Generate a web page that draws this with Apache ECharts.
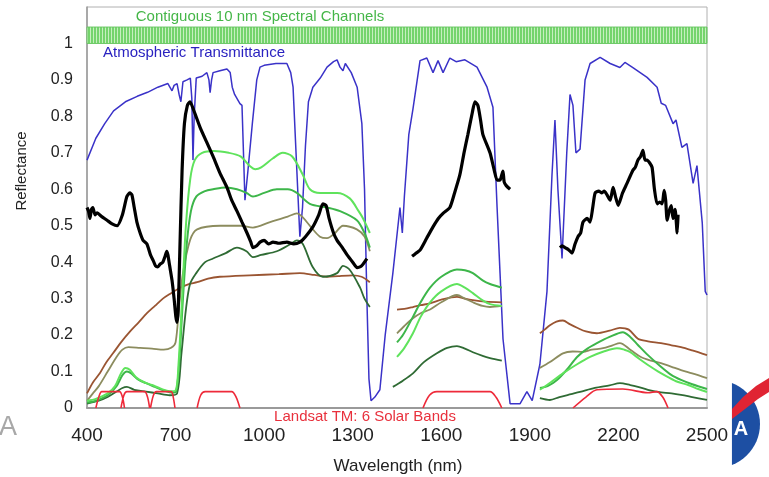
<!DOCTYPE html>
<html><head><meta charset="utf-8">
<script src="https://cdn.jsdelivr.net/npm/echarts@6/dist/echarts.min.js"></script>
<style>html,body{margin:0;padding:0;background:#fff}#c{width:769px;height:477px}</style>
</head><body><div id="c"></div>
<script>
const xTicks = [400, 700, 1000, 1300, 1600, 1900, 2200, 2500];
const yTicks = [0, 0.1, 0.2, 0.3, 0.4, 0.5, 0.6, 0.7, 0.8, 0.9, 1];
const channelBand = [[400, 1.0], [2500, 1.045]];

const transmittance = [[400,0.68],[430,0.74],[460,0.78],[490,0.815],[530,0.84],[570,0.855],[605,0.866],[640,0.88],[674,0.89],[688,0.87],[695,0.885],[705,0.89],[712,0.86],[718,0.84],[725,0.895],[739,0.9],[750,0.905],[755,0.85],[759,0.68],[763,0.8],[770,0.905],[790,0.91],[806,0.92],[813,0.9],[817,0.865],[822,0.9],[827,0.92],[850,0.925],[874,0.93],[885,0.92],[892,0.88],[900,0.86],[918,0.835],[925,0.83],[930,0.7],[935,0.57],[945,0.65],[960,0.78],[975,0.9],[986,0.935],[1000,0.94],[1040,0.945],[1077,0.945],[1090,0.92],[1098,0.88],[1108,0.7],[1121,0.47],[1130,0.55],[1140,0.72],[1150,0.84],[1165,0.88],[1190,0.905],[1213,0.935],[1235,0.95],[1247,0.955],[1257,0.935],[1267,0.925],[1275,0.945],[1281,0.94],[1295,0.92],[1315,0.88],[1331,0.78],[1340,0.6],[1348,0.3],[1355,0.08],[1362,0.02],[1375,0.03],[1392,0.05],[1410,0.2],[1436,0.37],[1460,0.55],[1468,0.48],[1475,0.58],[1490,0.75],[1504,0.82],[1528,0.953],[1551,0.96],[1572,0.92],[1589,0.953],[1606,0.92],[1629,0.96],[1650,0.95],[1680,0.955],[1721,0.935],[1755,0.88],[1775,0.825],[1789,0.55],[1799,0.37],[1809,0.19],[1833,0.012],[1867,0.012],[1890,0.045],[1908,0.02],[1934,0.12],[1958,0.32],[1975,0.64],[1985,0.79],[1995,0.6],[2009,0.41],[2025,0.7],[2036,0.86],[2046,0.83],[2056,0.7],[2070,0.71],[2087,0.9],[2104,0.945],[2138,0.962],[2172,0.945],[2205,0.934],[2222,0.948],[2249,0.934],[2297,0.907],[2331,0.88],[2345,0.836],[2360,0.83],[2385,0.78],[2395,0.79],[2415,0.715],[2432,0.725],[2453,0.616],[2466,0.665],[2484,0.507],[2494,0.32],[2500,0.31]];

const mineral = [[400,0.55],[405,0.54],[410,0.52],[415,0.545],[420,0.55],[427,0.53],[434,0.535],[450,0.525],[468,0.515],[485,0.505],[502,0.5],[520,0.53],[535,0.58],[545,0.59],[552,0.585],[560,0.55],[569,0.51],[580,0.48],[590,0.46],[603,0.45],[615,0.42],[624,0.405],[632,0.39],[640,0.387],[648,0.395],[657,0.4],[664,0.415],[670,0.43],[674,0.42],[680,0.39],[688,0.35],[695,0.3],[701,0.25],[705,0.235],[709,0.27],[715,0.45],[722,0.65],[730,0.78],[740,0.83],[749,0.84],[760,0.82],[783,0.77],[805,0.73],[827,0.69],[850,0.645],[874,0.605],[890,0.57],[908,0.54],[925,0.51],[942,0.48],[955,0.455],[962,0.44],[975,0.445],[986,0.455],[1000,0.46],[1015,0.45],[1030,0.455],[1050,0.452],[1077,0.455],[1100,0.45],[1121,0.455],[1140,0.47],[1165,0.497],[1185,0.53],[1199,0.56],[1210,0.555],[1220,0.52],[1235,0.48],[1247,0.46],[1265,0.44],[1281,0.42],[1300,0.4],[1315,0.385],[1330,0.39],[1348,0.41],null,
[1501,0.416],[1515,0.425],[1528,0.433],[1550,0.465],[1572,0.497],[1590,0.52],[1606,0.534],[1629,0.55],[1645,0.59],[1663,0.64],[1677,0.7],[1690,0.75],[1705,0.81],[1714,0.84],[1724,0.83],[1733,0.79],[1741,0.75],[1765,0.7],[1780,0.65],[1789,0.625],[1799,0.625],[1805,0.64],[1809,0.65],[1813,0.62],[1820,0.61],[1833,0.6],null,
[2002,0.44],[2010,0.445],[2019,0.44],[2030,0.435],[2043,0.425],[2053,0.45],[2063,0.47],[2072,0.48],[2080,0.51],[2094,0.52],[2104,0.51],[2113,0.55],[2121,0.59],[2133,0.595],[2144,0.59],[2152,0.595],[2161,0.585],[2172,0.57],[2182,0.605],[2190,0.58],[2199,0.556],[2214,0.59],[2229,0.616],[2249,0.652],[2257,0.66],[2266,0.68],[2275,0.69],[2283,0.707],[2290,0.68],[2297,0.68],[2306,0.672],[2314,0.66],[2322,0.6],[2331,0.56],[2340,0.565],[2348,0.56],[2355,0.597],[2360,0.57],[2365,0.515],[2372,0.54],[2379,0.555],[2385,0.52],[2392,0.545],[2399,0.48],[2402,0.53]];

const limeVeg = [[400,0.02],[430,0.025],[470,0.04],[495,0.06],[515,0.095],[530,0.11],[545,0.105],[565,0.085],[590,0.072],[620,0.063],[650,0.053],[680,0.046],[700,0.048],[710,0.12],[722,0.3],[735,0.5],[750,0.63],[765,0.68],[790,0.7],[830,0.705],[880,0.7],[920,0.69],[950,0.665],[970,0.655],[990,0.66],[1030,0.685],[1063,0.7],[1095,0.69],[1131,0.64],[1155,0.6],[1190,0.59],[1247,0.59],[1290,0.575],[1320,0.54],[1335,0.52],[1358,0.48],null,
[1450,0.14],[1475,0.165],[1504,0.205],[1530,0.25],[1562,0.29],[1600,0.32],[1653,0.34],[1680,0.33],[1707,0.315],[1740,0.295],[1765,0.285],[1805,0.28],null,
[1934,0.05],[1970,0.07],[2012,0.095],[2060,0.12],[2104,0.14],[2150,0.155],[2195,0.164],[2220,0.16],[2239,0.154],[2270,0.135],[2300,0.118],[2335,0.1],[2368,0.085],[2400,0.072],[2436,0.063],[2470,0.052],[2500,0.044]];

const greenVeg = [[400,0.015],[430,0.02],[470,0.035],[500,0.06],[520,0.09],[535,0.1],[550,0.095],[570,0.08],[600,0.068],[630,0.058],[660,0.048],[690,0.042],[702,0.045],[712,0.12],[725,0.3],[738,0.45],[752,0.54],[770,0.58],[800,0.595],[827,0.6],[870,0.605],[908,0.6],[940,0.59],[962,0.58],[1000,0.59],[1043,0.6],[1080,0.6],[1111,0.59],[1155,0.56],[1213,0.55],[1257,0.54],[1314,0.515],[1340,0.48],[1358,0.44],null,
[1450,0.18],[1470,0.2],[1504,0.25],[1530,0.29],[1562,0.33],[1600,0.36],[1653,0.38],[1680,0.378],[1707,0.37],[1740,0.35],[1765,0.34],[1805,0.33],null,
[1934,0.055],[1960,0.06],[1992,0.077],[2025,0.105],[2060,0.14],[2095,0.163],[2127,0.178],[2170,0.195],[2215,0.208],[2240,0.195],[2266,0.173],[2300,0.145],[2344,0.113],[2380,0.09],[2412,0.077],[2450,0.065],[2500,0.052]];

const oliveVeg = [[400,0.02],[420,0.04],[440,0.06],[470,0.1],[500,0.14],[520,0.16],[540,0.167],[580,0.165],[620,0.163],[660,0.16],[685,0.165],[700,0.18],[712,0.28],[725,0.37],[749,0.46],[773,0.49],[851,0.5],[920,0.5],[962,0.495],[1020,0.51],[1080,0.525],[1111,0.534],[1131,0.523],[1160,0.495],[1189,0.47],[1213,0.466],[1240,0.48],[1267,0.5],[1314,0.49],[1340,0.47],[1358,0.43],null,
[1450,0.205],[1475,0.225],[1504,0.246],[1530,0.26],[1562,0.27],[1600,0.29],[1653,0.31],[1680,0.3],[1707,0.29],[1740,0.28],[1765,0.277],[1805,0.28],null,
[1934,0.11],[1968,0.126],[2012,0.15],[2045,0.155],[2080,0.154],[2110,0.16],[2148,0.164],[2180,0.172],[2205,0.178],[2240,0.16],[2276,0.14],[2310,0.13],[2344,0.123],[2380,0.113],[2412,0.104],[2450,0.095],[2500,0.082]];

const darkVeg = [[400,0.012],[440,0.02],[470,0.03],[500,0.045],[520,0.055],[535,0.058],[560,0.05],[600,0.045],[640,0.04],[680,0.035],[705,0.04],[720,0.15],[735,0.27],[749,0.34],[770,0.37],[800,0.4],[827,0.41],[870,0.425],[908,0.44],[940,0.43],[962,0.414],[990,0.42],[1043,0.43],[1090,0.45],[1111,0.46],[1131,0.45],[1165,0.386],[1199,0.36],[1247,0.37],[1267,0.39],[1291,0.378],[1325,0.33],[1340,0.3],[1358,0.277],null,
[1436,0.058],[1470,0.075],[1504,0.095],[1540,0.125],[1585,0.15],[1620,0.165],[1653,0.17],[1680,0.163],[1707,0.153],[1740,0.143],[1765,0.137],[1805,0.13],null,
[1934,0.027],[1968,0.022],[2000,0.03],[2040,0.038],[2070,0.044],[2120,0.055],[2170,0.062],[2205,0.068],[2240,0.063],[2266,0.058],[2300,0.05],[2334,0.044],[2380,0.04],[2412,0.036],[2450,0.03],[2500,0.022]];

const soil = [[400,0.04],[420,0.07],[444,0.096],[465,0.125],[488,0.15],[515,0.18],[546,0.21],[575,0.235],[603,0.26],[630,0.28],[657,0.3],[685,0.315],[715,0.33],[745,0.34],[773,0.345],[810,0.355],[850,0.36],[950,0.364],[1050,0.367],[1121,0.37],[1170,0.365],[1213,0.36],[1250,0.362],[1300,0.364],[1330,0.36],[1358,0.345],null,
[1450,0.27],[1475,0.272],[1504,0.277],[1530,0.282],[1562,0.287],[1600,0.297],[1653,0.305],[1680,0.3],[1707,0.296],[1750,0.292],[1805,0.29],null,
[1934,0.205],[1950,0.215],[1968,0.227],[1990,0.237],[2012,0.24],[2035,0.23],[2060,0.22],[2090,0.21],[2127,0.205],[2170,0.212],[2205,0.22],[2235,0.215],[2266,0.19],[2300,0.183],[2344,0.178],[2380,0.172],[2412,0.167],[2450,0.158],[2500,0.145]];

const landsatBands = [[430,0],[440,0.03],[450,0.045],[510,0.045],[520,0.03],[527,0],null,
[515,0],[525,0.035],[535,0.045],[595,0.045],[605,0.03],[612,0],null,
[615,0],[625,0.035],[635,0.045],[685,0.045],[692,0.03],[698,0],null,
[773,0],[785,0.035],[800,0.045],[890,0.045],[905,0.03],[918,0],null,
[1538,0],[1560,0.035],[1585,0.045],[1765,0.045],[1785,0.03],[1805,0],null,
[2046,0],[2090,0.03],[2127,0.05],[2215,0.052],[2300,0.042],[2330,0.045],[2350,0.03],[2368,0]];

const FONT = 'Liberation Sans, Arial, sans-serif';
const pat = document.createElement('canvas');
pat.width = 3; pat.height = 4;
const pc = pat.getContext('2d');
pc.fillStyle = '#74d46c'; pc.fillRect(0, 0, 3, 4);
pc.fillStyle = '#c6efbf'; pc.fillRect(0, 0, 1, 4);

// decorative logo fragment (circle cap)
const capPts = [];
for (let i = 0; i <= 24; i++) {
  const a = -Math.asin(41 / 44) + (2 * Math.asin(41 / 44)) * i / 24;
  capPts.push([716 + 44 * Math.cos(a), 424 + 44 * Math.sin(a)]);
}

function lineSeries(name, data, color, width, smooth, z) {
  return {
    name, type: 'line', data, showSymbol: false, symbol: 'none',
    smooth: smooth, connectNulls: false, z: z || 2,
    lineStyle: { color, width }, silent: true
  };
}

const chart = echarts.init(document.getElementById('c'), null, { renderer: 'canvas' });
chart.setOption({
  animation: false,
  backgroundColor: '#fff',
  grid: { left: 87, right: 62, top: 7, bottom: 69, show: true, borderColor: '#b0b0b0', borderWidth: 1, backgroundColor: '#fff' },
  xAxis: {
    type: 'value', min: 400, max: 2500,
    axisLine: { show: true, lineStyle: { color: '#9a9a9a', width: 2 } },
    axisTick: { show: false },
    splitLine: { show: false },
    axisLabel: { customValues: xTicks, fontSize: 19, color: '#222', margin: 18, fontFamily: FONT, formatter: v => String(v) }
  },
  yAxis: {
    type: 'value', min: 0, max: 1.1,
    axisLine: { show: true, lineStyle: { color: '#9a9a9a', width: 1.5 } },
    axisTick: { show: false },
    splitLine: { show: false },
    axisLabel: { customValues: yTicks, fontSize: 16, color: '#222', margin: 14, fontFamily: FONT, formatter: v => String(Math.round(v * 10) / 10) }
  },
  series: [
    Object.assign(lineSeries('Atmospheric Transmittance', transmittance, '#3a32c8', 1.5, false, 2), {
      markArea: {
        silent: true,
        itemStyle: { color: { image: pat, repeat: 'repeat' }, borderColor: '#6cc866', borderWidth: 1 },
        data: [[{ coord: channelBand[0] }, { coord: channelBand[1] }]]
      }
    }),
    lineSeries('Soil', soil, '#9a5532', 1.8, 0.3, 3),
    lineSeries('Dark vegetation', darkVeg, '#2f6b34', 1.8, 0.3, 3),
    lineSeries('Olive vegetation', oliveVeg, '#8c8c5e', 1.8, 0.3, 3),
    lineSeries('Green vegetation', greenVeg, '#3db64a', 2, 0.3, 3),
    lineSeries('Lime vegetation', limeVeg, '#5fe35c', 2, 0.3, 3),
    lineSeries('Landsat TM bands', landsatBands, '#ee2a3a', 1.6, 0.3, 4),
    lineSeries('Mineral', mineral, '#000000', 3.2, 0.2, 5)
  ],
  graphic: [
    { type: 'text', x: 260, y: 17, z: 10, style: { text: 'Contiguous 10 nm Spectral Channels', fill: '#45b648', fontSize: 15, fontFamily: FONT, align: 'center', verticalAlign: 'middle' } },
    { type: 'text', x: 103, y: 53, z: 10, style: { text: 'Atmospheric Transmittance', fill: '#2a22c0', fontSize: 15, fontFamily: FONT, align: 'left', verticalAlign: 'middle' } },
    { type: 'text', x: 365, y: 417, z: 10, style: { text: 'Landsat TM: 6 Solar Bands', fill: '#e8303c', fontSize: 15, fontFamily: FONT, align: 'center', verticalAlign: 'middle' } },
    { type: 'text', x: 22, y: 171, rotation: Math.PI / 2, z: 10, style: { text: 'Reflectance', fill: '#222', fontSize: 15, fontFamily: FONT, align: 'center', verticalAlign: 'middle' } },
    { type: 'text', x: 398, y: 466, z: 10, style: { text: 'Wavelength (nm)', fill: '#222', fontSize: 17, fontFamily: FONT, align: 'center', verticalAlign: 'middle' } },
    { type: 'text', x: -1, y: 428, z: 10, style: { text: 'A', fill: '#a8a8a8', fontSize: 27, fontFamily: FONT, align: 'left', verticalAlign: 'middle' } },
    { type: 'polygon', z: 10, shape: { points: capPts }, style: { fill: '#1d4fa3' } },
    { type: 'text', x: 741, y: 429, z: 11, style: { text: 'A', fill: '#fff', fontSize: 20, fontWeight: 'bold', fontFamily: FONT, align: 'center', verticalAlign: 'middle' } },
    { type: 'polygon', z: 12, shape: { points: [[732, 419], [745, 409], [758, 399], [769, 392], [769, 378], [756, 386], [743, 397], [732, 409]] }, style: { fill: '#e02433' } }
  ]
});
</script>
</body></html>
